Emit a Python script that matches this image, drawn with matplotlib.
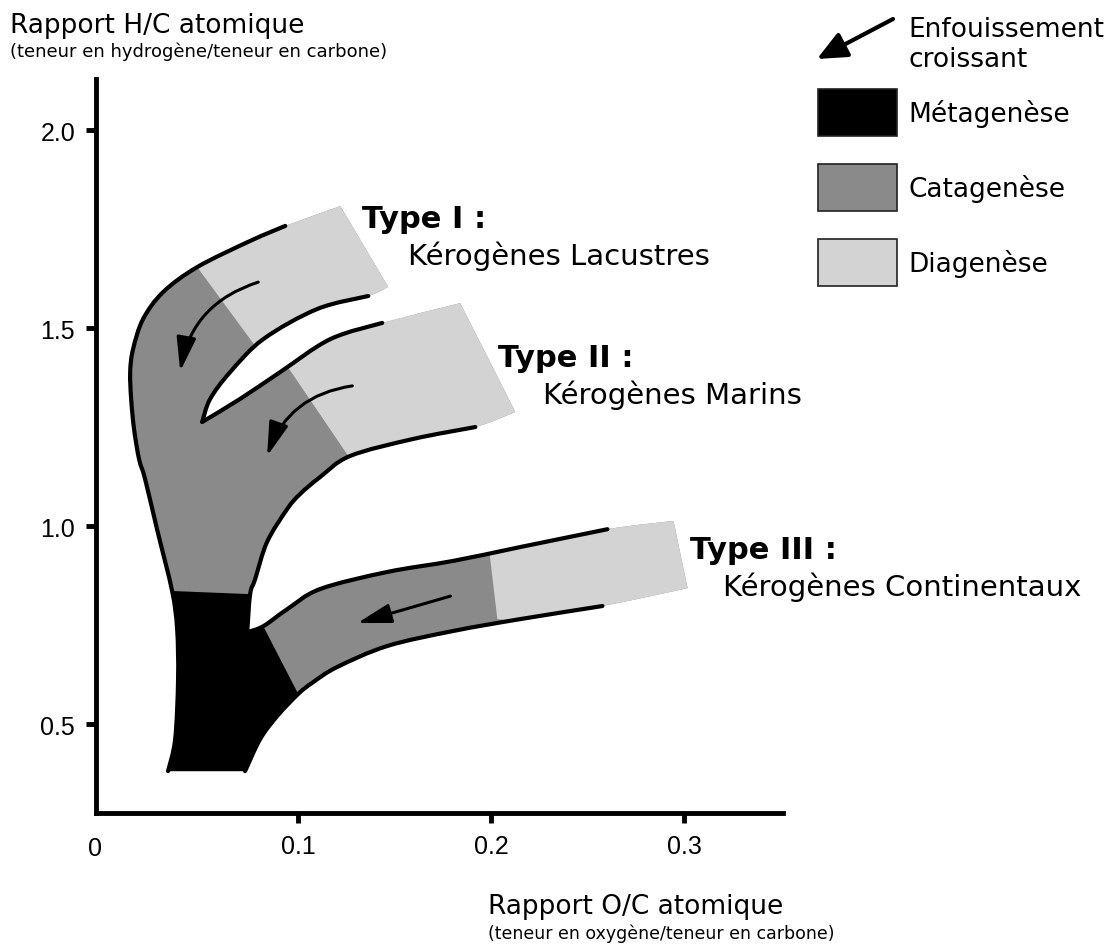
import matplotlib
matplotlib.use("Agg")
import matplotlib.pyplot as plt
from matplotlib.patches import PathPatch, FancyArrowPatch, Rectangle
from matplotlib.path import Path
import numpy as np

# ---------------- data (O/C, H/C atomic ratios) ----------------
# Outer edge: Type I upper edge, continuing down the left side of the diagram
edge_left_oc = [0.1218, 0.0933, 0.0751, 0.0477, 0.0301, 0.0197, 0.0145, 0.0130, 0.0135,
                0.0150, 0.0176, 0.0207, 0.0269, 0.0347, 0.0373, 0.0378, 0.0363, 0.0326]
edge_left_hc = [1.808, 1.758, 1.720, 1.654, 1.591, 1.523, 1.447, 1.389, 1.321,
                1.245, 1.169, 1.119, 0.992, 0.836, 0.740, 0.614, 0.462, 0.381]

# Gap between Type I (lower edge) and Type II (upper edge); index 6 is the tip
gap12_oc = [0.1466, 0.1363, 0.1098, 0.0819, 0.0648, 0.0544, 0.0503, 0.0699, 0.0907,
            0.1166, 0.1435, 0.1839]
gap12_hc = [1.604, 1.581, 1.548, 1.472, 1.389, 1.321, 1.263, 1.321, 1.389,
            1.472, 1.513, 1.563]

# Gap between Type II (lower edge) and Type III (upper edge); index 10 is the tip
gap23_oc = [0.2124, 0.1917, 0.1596, 0.1269, 0.1114, 0.1010, 0.0943, 0.0839, 0.0777,
            0.0751, 0.0736, 0.0819, 0.0943, 0.1114, 0.1461, 0.1803, 0.2150, 0.2601, 0.2943]
gap23_hc = [1.288, 1.250, 1.220, 1.177, 1.124, 1.081, 1.043, 0.960, 0.866,
            0.828, 0.732, 0.747, 0.790, 0.841, 0.884, 0.912, 0.947, 0.992, 1.013]

# Type III lower edge, continuing along the metagenesis zone to the bottom
lower3_oc = [0.3016, 0.2575, 0.2150, 0.1803, 0.1461, 0.1202, 0.1078, 0.1000, 0.0891,
             0.0803, 0.0725]
lower3_hc = [0.843, 0.798, 0.765, 0.735, 0.697, 0.644, 0.606, 0.576, 0.520,
             0.462, 0.381]

# Diagenesis / catagenesis limits (start point, end point)
dia_I_oc, dia_I_hc = [0.0477, 0.0777], [1.654, 1.455]
dia_II_oc, dia_II_hc = [0.0943, 0.1259], [1.404, 1.177]
dia_III_oc, dia_III_hc = [0.1990, 0.2031], [0.934, 0.765]

# Burial arrows (tail, head)
arrow_I_oc, arrow_I_hc = [0.0793, 0.0389], [1.616, 1.391]
arrow_II_oc, arrow_II_hc = [0.1280, 0.0839], [1.354, 1.177]
arrow_III_oc, arrow_III_hc = [0.1788, 0.1306], [0.823, 0.755]

x_ticks = [0.1, 0.2, 0.3]
x_ticklabels = ["0.1", "0.2", "0.3"]
y_ticks = [0.5, 1.0, 1.5, 2.0]
y_ticklabels = ["0.5", "1.0", "1.5", "2.0"]

stage_names = ["Métagenèse", "Catagenèse", "Diagenèse"]
type_titles = ["Type I", "Type II", "Type III"]
type_names = ["Kérogènes Lacustres", "Kérogènes Marins", "Kérogènes Continentaux"]

# ---------------- styling ----------------
C_META = "#000000"
C_CATA = "#8a8a8a"
C_DIA = "#d3d3d3"
LW_EDGE = 3.0
W, H = 1115, 945

def pts(oc, hc):
    return [np.array(p, dtype=float) for p in zip(oc, hc)]

EL = pts(edge_left_oc, edge_left_hc)
G12 = pts(gap12_oc, gap12_hc)
G23 = pts(gap23_oc, gap23_hc)
L3 = pts(lower3_oc, lower3_hc)


def smooth_piece(P):
    """Bezier (Catmull-Rom) curve through the given points: vertices and codes
    after the first point."""
    verts, codes = [], []
    n = len(P)
    for i in range(n - 1):
        p0 = P[i - 1] if i > 0 else P[i]
        p1, p2 = P[i], P[i + 1]
        p3 = P[i + 2] if i + 2 < n else P[i + 1]
        c1 = p1 + (p2 - p0) / 6.0
        c2 = p2 - (p3 - p1) / 6.0
        verts += [c1, c2, p2]
        codes += [Path.CURVE4] * 3
    return verts, codes


def build_path(pieces, closed):
    verts, codes = [], []
    for k, P in enumerate(pieces):
        verts.append(P[0])
        codes.append(Path.MOVETO if k == 0 else Path.LINETO)
        v, c = smooth_piece(P)
        verts += v
        codes += c
    if closed:
        verts.append(pieces[0][0])
        codes.append(Path.CLOSEPOLY)
    return Path(np.array(verts), codes)


fig = plt.figure(figsize=(W / 100, H / 100), dpi=100)
ax = fig.add_axes([96 / W, 1 - 814 / H, (783 - 96) / W, (814 - 80) / H])
ax.set_xlim(-0.0047, 0.351)
ax.set_ylim(0.2753, 2.129)

# whole shape (catagenesis grey)
whole = build_path([EL, L3[::-1], G23[:10:-1], G23[10::-1], G12[:5:-1], G12[6::-1]], True)
ax.add_patch(PathPatch(whole, facecolor=C_CATA, edgecolor="none", zorder=1))

# diagenesis zones
A1 = np.array([dia_I_oc[0], dia_I_hc[0]]); B1 = np.array([dia_I_oc[1], dia_I_hc[1]])
A2 = np.array([dia_II_oc[0], dia_II_hc[0]]); B2 = np.array([dia_II_oc[1], dia_II_hc[1]])
A3 = np.array([dia_III_oc[0], dia_III_hc[0]]); B3 = np.array([dia_III_oc[1], dia_III_hc[1]])

light_I = build_path([EL[0:4], [B1] + G12[3::-1]], True)
light_II = build_path([[A2] + G12[9:], G23[0:3] + [B2]], True)
light_III = build_path([[A3] + G23[16:], L3[0:3] + [B3]], True)
for p in (light_I, light_II, light_III):
    ax.add_patch(PathPatch(p, facecolor=C_DIA, edgecolor="none", zorder=2))

# metagenesis zone
black = build_path([EL[13:], L3[:6:-1], G23[11:9:-1], G23[10:8:-1]], True)
ax.add_patch(PathPatch(black, facecolor=C_META, edgecolor="none", zorder=2))

# outlines
for piece in (EL[1:], G12[1:7], G12[6:-1], G23[1:11], G23[10:-1], L3[1:]):
    ax.add_patch(PathPatch(build_path([piece], False), facecolor="none", edgecolor="black",
                           lw=LW_EDGE, capstyle="round", joinstyle="round", zorder=3))

# burial arrows
def arrow(oc, hc, rad):
    a = FancyArrowPatch((oc[0], hc[0]), (oc[1], hc[1]),
                        connectionstyle=f"arc3,rad={rad}",
                        arrowstyle="-|>,head_length=1.15,head_width=0.33",
                        mutation_scale=18, lw=2.2, color="black", zorder=4,
                        shrinkA=0, shrinkB=0)
    ax.add_patch(a)

arrow(arrow_I_oc, arrow_I_hc, 0.3)
arrow(arrow_II_oc, arrow_II_hc, 0.3)
arrow(arrow_III_oc, arrow_III_hc, 0.0)

# axes styling
for s in ("top", "right"):
    ax.spines[s].set_visible(False)
for s in ("left", "bottom"):
    ax.spines[s].set_linewidth(3.5)
ax.set_xticks(x_ticks)
ax.set_xticklabels(x_ticklabels)
ax.set_yticks(y_ticks)
ax.set_yticklabels(y_ticklabels)
ax.tick_params(direction="out", length=7, width=3.5, labelsize=18, pad=8,
               labelfontfamily="Liberation Sans")
fig.text(95 / W, 1 - 856 / H, "0", ha="center", va="baseline", fontsize=18,
         fontfamily="Liberation Sans")

# axis titles
fig.text(10 / W, 1 - 33 / H, "Rapport H/C atomique", fontsize=19, va="baseline", ha="left")
fig.text(10 / W, 1 - 57 / H, "(teneur en hydrogène/teneur en carbone)", fontsize=13,
         va="baseline", ha="left")
fig.text(488 / W, 1 - 914 / H, "Rapport O/C atomique", fontsize=19, va="baseline", ha="left")
fig.text(488 / W, 1 - 939 / H, "(teneur en oxygène/teneur en carbone)", fontsize=12.5,
         va="baseline", ha="left")

# type labels
type_pos = [((362, 228), (408, 265)), ((498, 367), (543, 404)), ((690, 559), (723, 596))]
for title, name, (p1, p2) in zip(type_titles, type_names, type_pos):
    fig.text(p1[0] / W, 1 - p1[1] / H, title + " :", fontsize=22, fontweight="bold",
             va="baseline", ha="left")
    fig.text(p2[0] / W, 1 - p2[1] / H, name, fontsize=21, va="baseline", ha="left")

# legend
leg_arrow = FancyArrowPatch((893 / W, 1 - 20 / H), (817 / W, 1 - 60 / H),
                            transform=fig.transFigure,
                            arrowstyle="-|>,head_length=1.0,head_width=0.45",
                            mutation_scale=18, lw=3, color="black", shrinkA=0, shrinkB=0)
fig.patches.append(leg_arrow)
fig.text(908 / W, 1 - 37 / H, "Enfouissement", fontsize=19, va="baseline", ha="left")
fig.text(908 / W, 1 - 67 / H, "croissant", fontsize=19, va="baseline", ha="left")

box_tops = [90, 165, 240]
for name, col, top in zip(stage_names, [C_META, C_CATA, C_DIA], box_tops):
    fig.patches.append(Rectangle((818 / W, 1 - (top + 47) / H), 79 / W, 47 / H,
                                 transform=fig.transFigure, facecolor=col,
                                 edgecolor="#222222", lw=1.2))
    fig.text(908 / W, 1 - (top + 32) / H, name, fontsize=19, va="baseline", ha="left")

fig.savefig("out.png", dpi=100)
